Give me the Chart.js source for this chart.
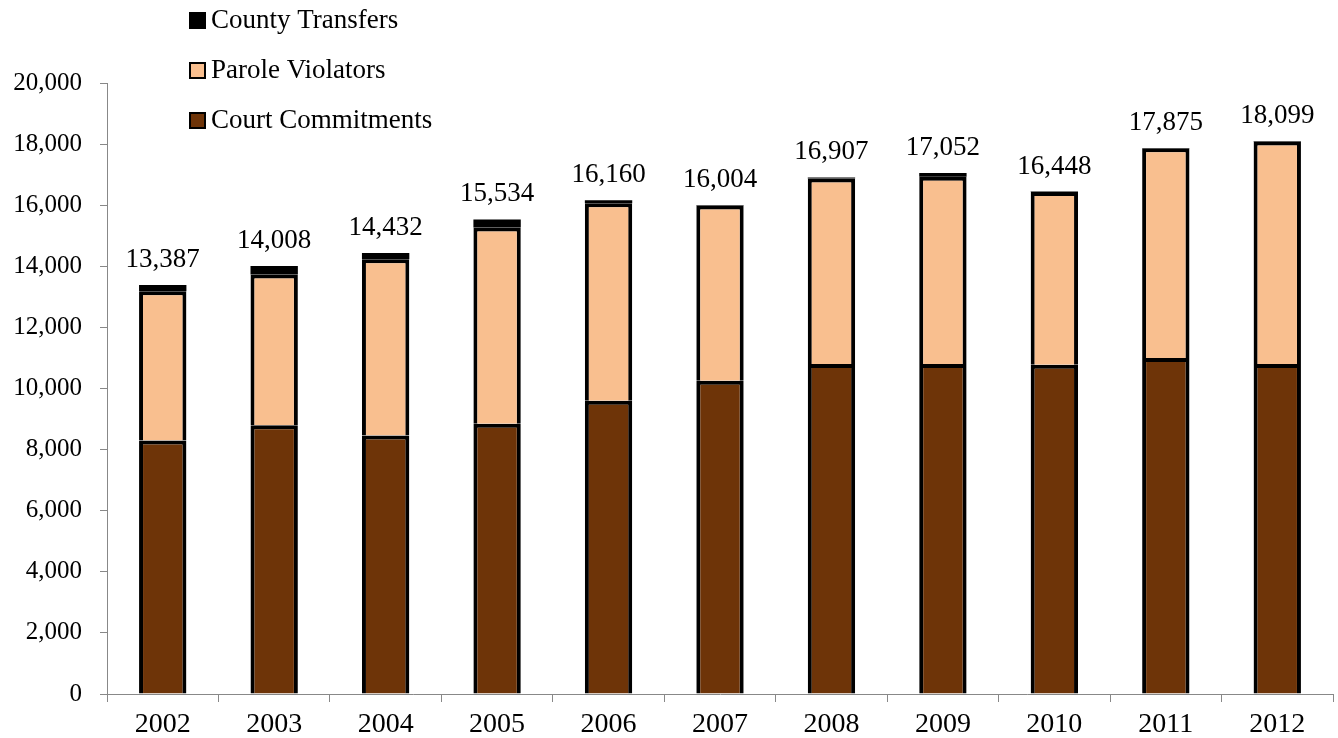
<!DOCTYPE html>
<html>
<head>
<meta charset="utf-8">
<script src="https://cdn.jsdelivr.net/npm/chart.js@4/dist/chart.umd.min.js"></script>
<style>
  html, body { margin: 0; padding: 0; background: #fff; }
  #wrap { width: 1338px; height: 738px; }
</style>
</head>
<body>
<div id="wrap"><canvas id="c" width="1338" height="738"></canvas></div>
<script>
const years = ["2002","2003","2004","2005","2006","2007","2008","2009","2010","2011","2012"];
const courtCommitments = [8300, 8800, 8460, 8850, 9600, 10250, 10800, 10800, 10780, 11000, 10800];
const paroleViolators = [4887, 4928, 5772, 6424, 6460, 5744, 6077, 6132, 5648, 6865, 7289];
const countyTransfers = [200, 280, 200, 260, 100, 10, 30, 120, 20, 10, 10];
const totals = [13387, 14008, 14432, 15534, 16160, 16004, 16907, 17052, 16448, 17875, 18099];
const yTicks = [0, 2000, 4000, 6000, 8000, 10000, 12000, 14000, 16000, 18000, 20000];

const FONT = "'Liberation Serif', 'Times New Roman', serif";

const totalLabels = {
  id: 'totalLabels',
  afterDatasetsDraw(chart) {
    const ctx = chart.ctx;
    const y = chart.scales.y;
    const x = chart.scales.x;
    ctx.save();
    ctx.font = "27px " + FONT;
    ctx.fillStyle = "#000";
    ctx.textAlign = "center";
    ctx.textBaseline = "alphabetic";
    totals.forEach((t, i) => {
      const px = x.getPixelForValue(i);
      const py = y.getPixelForValue(t);
      ctx.fillText(t.toLocaleString('en-US'), px, py - 18);
    });
    ctx.restore();
  }
};

const customLegend = {
  id: 'customLegend',
  afterDraw(chart) {
    const ctx = chart.ctx;
    const ds = chart.data.datasets.slice().reverse();
    ctx.save();
    ctx.font = "27px " + FONT;
    ctx.textBaseline = "middle";
    ctx.textAlign = "left";
    ds.forEach((d, k) => {
      const cy = 20 + k * 50;
      ctx.fillStyle = d.backgroundColor;
      ctx.fillRect(190, cy - 7, 15, 15);
      ctx.strokeStyle = "#000";
      ctx.lineWidth = 2;
      ctx.strokeRect(190, cy - 7, 15, 15);
      ctx.fillStyle = "#000";
      ctx.fillText(d.label, 211, cy + 1);
    });
    ctx.restore();
  }
};

new Chart(document.getElementById('c'), {
  type: 'bar',
  data: {
    labels: years,
    datasets: [
      { label: 'Court Commitments', data: courtCommitments, backgroundColor: '#6E3408', borderColor: '#000', borderWidth: 4 },
      { label: 'Parole Violators', data: paroleViolators, backgroundColor: '#F9BF8F', borderColor: '#000', borderWidth: 4 },
      { label: 'County Transfers', data: countyTransfers, backgroundColor: '#000', borderColor: '#000', borderWidth: 0 }
    ]
  },
  options: {
    responsive: false,
    animation: false,
    devicePixelRatio: 1,
    layout: { padding: { top: 83, right: 5, bottom: 0, left: 0 } },
    datasets: { bar: { categoryPercentage: 1.0, barPercentage: 0.425 } },
    plugins: { legend: { display: false }, tooltip: { enabled: false }, title: { display: false } },
    scales: {
      x: {
        stacked: true,
        afterFit(scale) { scale.height = 44; },
        border: { display: true, color: '#888', width: 1 },
        grid: { display: true, offset: true, drawOnChartArea: false, drawTicks: true, tickLength: 8, color: '#888' },
        ticks: { color: '#000', font: { family: FONT, size: 28, lineHeight: 1.0 }, padding: 9, maxRotation: 0 }
      },
      y: {
        stacked: true,
        min: 0, max: 20000,
        afterFit(scale) { scale.width = 107; },
        afterBuildTicks(scale) { scale.ticks = yTicks.map(v => ({ value: v })); },
        border: { display: true, color: '#888', width: 1 },
        grid: { display: true, drawOnChartArea: false, drawTicks: true, tickLength: 7, color: '#888' },
        ticks: { color: '#000', font: { family: FONT, size: 25 }, padding: 18,
                 callback: v => Number(v).toLocaleString('en-US') }
      }
    }
  },
  plugins: [totalLabels, customLegend]
});
</script>
</body>
</html>
